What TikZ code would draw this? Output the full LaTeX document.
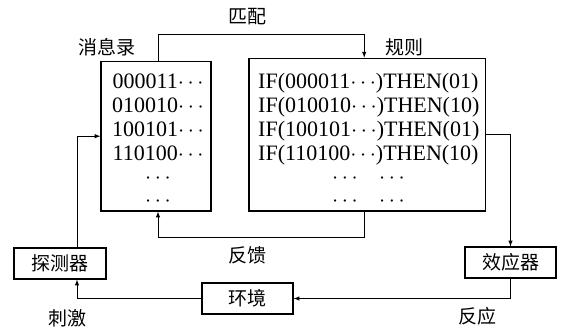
\RequirePackage{fix-cm}
\documentclass[tikz,border=0pt]{standalone}
\usepackage{fontspec}
\setmainfont{Liberation Serif}
\newfontfamily\cjk{Noto Sans CJK SC}
\usepackage{tikz}
\usetikzlibrary{arrows}
\usetikzlibrary{positioning}

\tikzset{
  box/.style={rectangle, draw=black, line width=1.2pt, inner sep=0pt},
  lbl/.style={font=\cjk\fontsize{19}{19}\selectfont, inner sep=0pt},
  code/.style={font=\fontsize{22}{22}\selectfont, inner sep=0pt, anchor=base,
    text height=15, text depth=4},
  arr/.style={-latex, line width=1pt, draw=black}
}

\begin{document}
\begin{tikzpicture}[x=1pt, y=-1pt]
\useasboundingbox (0,0) rectangle (568,330);

% boxes
\node [box, minimum width=110, minimum height=149.5] (msg) at (156, 136.2) {};
\node [box, minimum width=236.5, minimum height=152.7] (rul) at (367.2, 134.6) {};
\node [box, minimum width=92, minimum height=31, lbl] (det) at (60, 263.5) {探测器};
\node [box, minimum width=91, minimum height=31, lbl] (env) at (247.5, 298.5) {环境};
\node [box, minimum width=91, minimum height=31, lbl] (eff) at (510.5, 262.5) {效应器};

% labels
\node [lbl] (match) at (247, 17) {匹配};
\node [lbl] (msgname) at (107, 47) {消息录};
\node [lbl] (rulname) at (404, 47) {规则};
\node [lbl] (fb) at (247, 255) {反馈};
\node [lbl] (stim) at (67, 318) {刺激};
\node [lbl] (resp) at (477, 316) {反应};

% message list
\node [code] (m1) at (158, 88) {000011$\cdots$};
\node [code] (m2) at (158, 112) {010010$\cdots$};
\node [code] (m3) at (158, 136) {100101$\cdots$};
\node [code] (m4) at (158, 160) {110100$\cdots$};
\node [code] (m5) at (158, 183) {$\cdots$};
\node [code] (m6) at (158, 206) {$\cdots$};

% rule list
\node [code, anchor=base west] (r1) at (258, 88) {IF(000011$\cdots$)THEN(01)};
\node [code, anchor=base west] (r2) at (258, 112) {IF(010010$\cdots$)THEN(10)};
\node [code, anchor=base west] (r3) at (258, 136) {IF(100101$\cdots$)THEN(01)};
\node [code, anchor=base west] (r4) at (258, 160) {IF(110100$\cdots$)THEN(10)};
\node [code] (r5) at (345, 183) {$\cdots$};
\node [code] (r6) at (392, 183) {$\cdots$};
\node [code] (r7) at (345, 206) {$\cdots$};
\node [code] (r8) at (392, 206) {$\cdots$};

% connectors
\draw [arr] ([xshift=2]msg.north) -- ++(0,-26.5) -| ([xshift=-3]rul.north);
\draw [arr] ([xshift=-3]rul.south) -- ++(0,25.5) -| ([xshift=2]msg.south);
\draw [arr] (rul.east) -| (eff.north);
\draw [arr] (eff.south) |- (env.east);
\draw [arr] (env.west) -| ([xshift=17]det.south);
\draw [arr] ([xshift=17]det.north) |- (msg.west);
\end{tikzpicture}
\end{document}
